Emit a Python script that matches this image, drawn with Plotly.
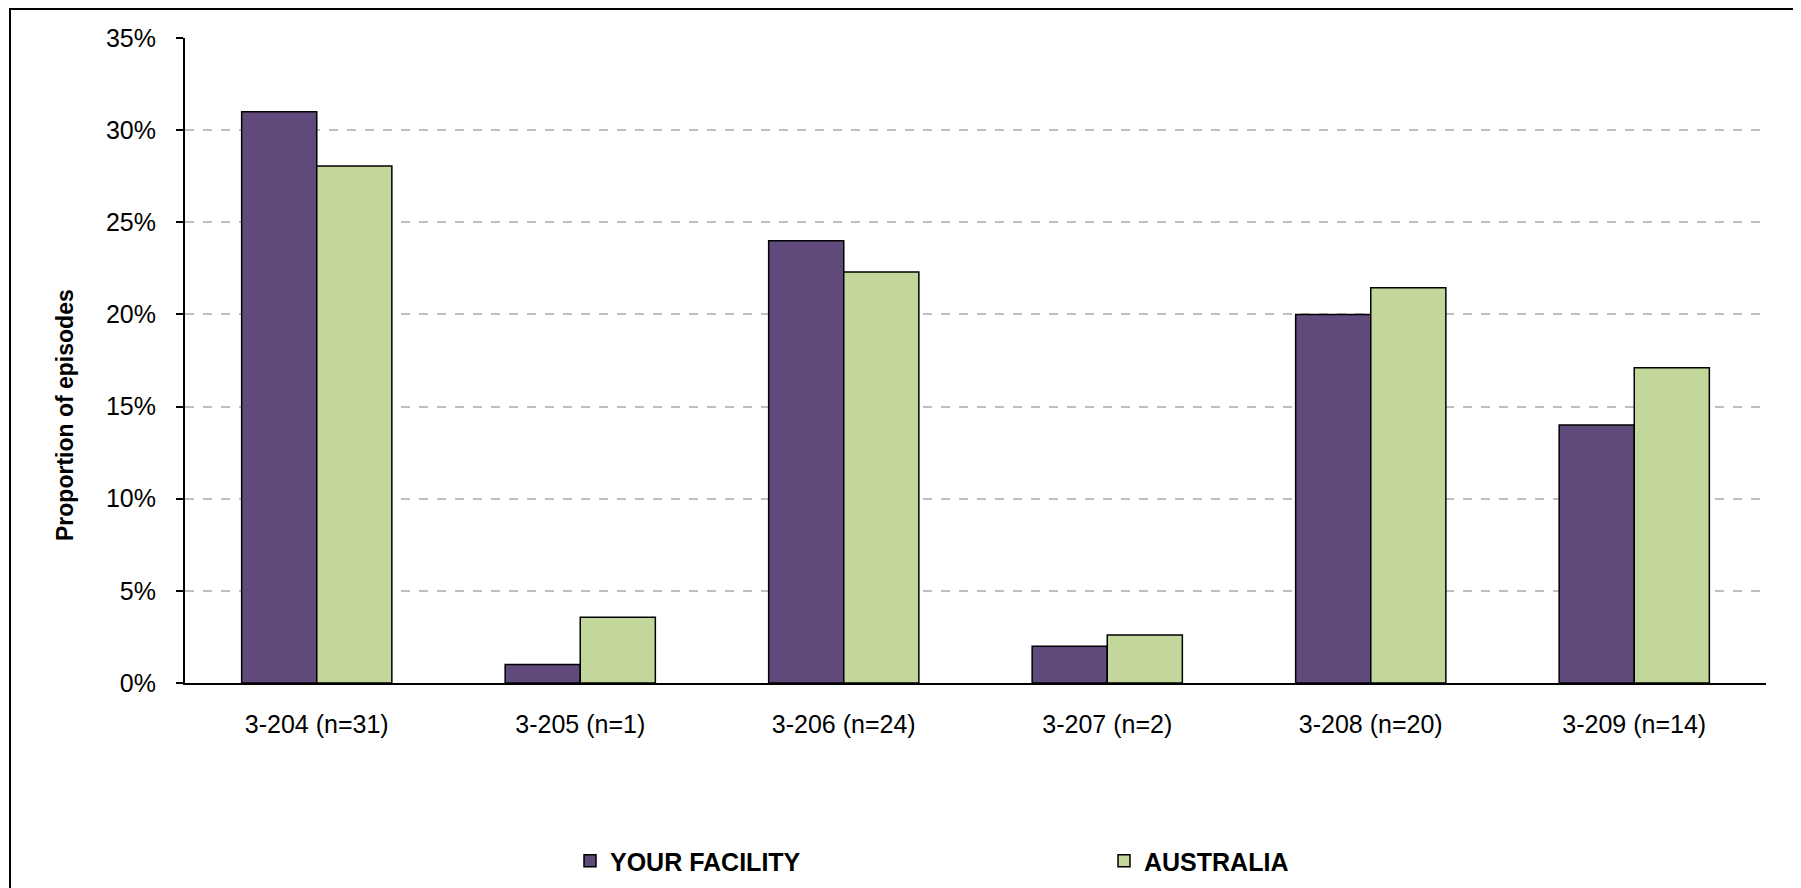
import plotly.graph_objects as go

categories = ["3-204 (n=31)", "3-205 (n=1)", "3-206 (n=24)", "3-207 (n=2)", "3-208 (n=20)", "3-209 (n=14)"]
your_facility = [31.0, 1.0, 24.0, 2.0, 20.0, 14.0]
australia = [28.05, 3.57, 22.3, 2.6, 21.45, 17.1]
y_ticks = [0, 5, 10, 15, 20, 25, 30, 35]

PURPLE = "#604A7B"
GREEN = "#C3D69B"
FONT = "Liberation Sans Narrow, Arial Narrow, Liberation Sans, Arial, sans-serif"

# page body has an 8px margin: figure coords = screenshot coords - 8
W, H = 1801, 888
L, R, T, B = 177, 43, 30, 213
pw, ph = W - L - R, H - T - B

fig = go.Figure()
fig.add_trace(go.Bar(x=categories, y=your_facility, name="YOUR FACILITY",
                     marker=dict(color=PURPLE, line=dict(color="black", width=1.5))))
fig.add_trace(go.Bar(x=categories, y=australia, name="AUSTRALIA",
                     marker=dict(color=GREEN, line=dict(color="black", width=1.5))))

def px_to_paper_x(px):
    return (px - L) / pw

def px_to_paper_y(py):
    return (H - B - py) / ph

# outer chart border
fig.add_shape(type="rect", xref="paper", yref="paper",
              x0=px_to_paper_x(2), x1=px_to_paper_x(1790),
              y0=px_to_paper_y(920), y1=px_to_paper_y(1),
              line=dict(color="black", width=2), fillcolor="rgba(0,0,0,0)", layer="below")

# y-axis title (placed as in the reference, below the plot centre)
fig.add_annotation(text="<b>Proportion of episodes</b>", xref="paper", yref="paper",
                   x=px_to_paper_x(57), y=px_to_paper_y(407), textangle=-90,
                   showarrow=False, xanchor="center", yanchor="middle",
                   font=dict(family="Liberation Sans, Arial, sans-serif", size=23, color="black"))

fig.update_layout(
    width=W, height=H,
    margin=dict(l=L, r=R, t=T, b=B, autoexpand=False),
    paper_bgcolor="white", plot_bgcolor="white",
    barmode="group", bargap=0.43, bargroupgap=0.0,
    font=dict(family=FONT, size=25, color="black"),
    legend=dict(orientation="h", x=px_to_paper_x(562), xanchor="left",
                y=px_to_paper_y(830), yanchor="top",
                entrywidth=489, entrywidthmode="pixels",
                font=dict(family=FONT, size=25, color="black", weight="bold"),
                bgcolor="rgba(0,0,0,0)", traceorder="normal"),
    showlegend=True,
)

fig.update_yaxes(range=[0, 35], tickvals=y_ticks, ticktext=[f"{v}%" for v in y_ticks],
                 showgrid=True, gridcolor="#BFBFBF", griddash="dash", gridwidth=1.5,
                 showline=True, linecolor="black", linewidth=2,
                 ticks="outside", ticklen=7, tickcolor="black", tickwidth=2,
                 ticklabelstandoff=15, zeroline=False,
                 tickfont=dict(family=FONT, size=25))
fig.update_xaxes(showline=True, linecolor="black", linewidth=2, ticks="",
                 tickfont=dict(family=FONT, size=25), ticklabelstandoff=18,
                 showgrid=False)

fig.write_html("out.html")
